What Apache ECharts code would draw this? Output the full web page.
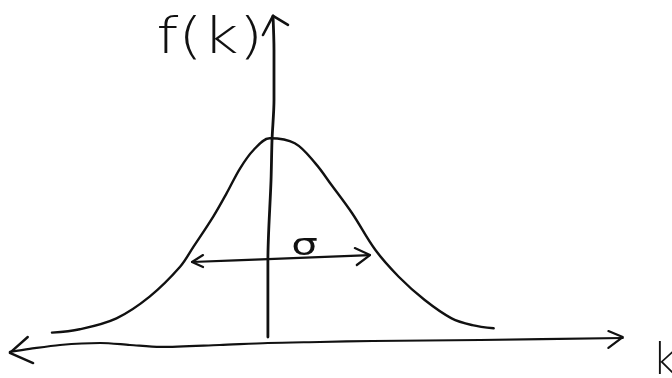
<!DOCTYPE html>
<html>
<head>
<meta charset="utf-8">
<script src="https://cdn.jsdelivr.net/npm/echarts@6/dist/echarts.min.js"></script>
<style>
  html, body { margin: 0; padding: 0; background: #fff; }
  #chart { width: 672px; height: 378px; }
</style>
</head>
<body>
<div id="chart"></div>
<script>
// Bell curve f(k), sketched in units of k (sigma ~ 1) and f (peak ~ 1)
const curveK = [-2.42, -2.11, -1.70, -1.33, -0.99, -0.84, -0.62, -0.47, -0.32, -0.17, 0.01, 0.29, 0.52, 0.70, 0.93, 1.19, 1.45, 1.74, 2.04, 2.27, 2.51];
const curveF = [0.028, 0.045, 0.100, 0.209, 0.359, 0.460, 0.611, 0.729, 0.854, 0.946, 1.005, 0.980, 0.879, 0.770, 0.628, 0.443, 0.309, 0.192, 0.100, 0.066, 0.050];

// Hand-drawn k axis (slightly wavy), left tip to right tip
const kAxisK = [-2.89, -2.67, -2.33, -1.88, -1.55, -1.21, -0.55, -0.01, 0.57, 1.16, 2.36, 3.95];
const kAxisF = [-0.069, -0.054, -0.034, -0.024, -0.034, -0.044, -0.034, -0.024, -0.019, -0.014, -0.009, 0.001];
const kArrowLeftK = [-2.69, -2.89, -2.63];
const kArrowLeftF = [0.006, -0.074, -0.125];
const kArrowRightK = [3.79, 3.95, 3.79];
const kArrowRightF = [0.036, 0.006, -0.049];

// Hand-drawn f axis, bottom to top
const fAxisK = [-0.01, -0.01, 0.025, 0.036, 0.058, 0.058, 0.047];
const fAxisF = [0.006, 0.393, 0.795, 0.996, 1.197, 1.449, 1.620];
const fArrowK = [-0.065, 0.047, 0.214];
const fArrowF = [1.524, 1.620, 1.575];

// Width marker (sigma) double arrow
const sigmaK = [-0.857, -0.01, 1.129];
const sigmaF = [0.383, 0.398, 0.418];
const sigmaLeftHeadK = [-0.734, -0.857, -0.734];
const sigmaLeftHeadF = [0.418, 0.383, 0.358];
const sigmaRightHeadK = [0.960, 1.129, 0.982];
const sigmaRightHeadF = [0.453, 0.418, 0.368];

// Text labels
const yAxisLabel = 'f(k)';
const xAxisLabel = 'k';
const widthLabel = 'σ';
const yLabelAt = [-0.66, 1.50];
const xLabelAt = [4.28, -0.02];
const widthLabelAt = [0.40, 0.455];

const ink = '#111';
const pairs = (ks, fs) => ks.map((k, i) => [k, fs[i]]);

function stroke(ks, fs, width, smooth) {
  return {
    type: 'line',
    data: pairs(ks, fs),
    symbol: 'none',
    smooth: smooth || false,
    silent: true,
    lineStyle: { color: ink, width: width, cap: 'round', join: 'round' }
  };
}

const chart = echarts.init(document.getElementById('chart'), null, { renderer: 'canvas' });

chart.setOption({
  backgroundColor: '#fff',
  animation: false,
  grid: { left: 0, right: 0, top: 0, bottom: 0 },
  xAxis: { type: 'value', min: -3, max: 4.5, show: false },
  yAxis: { type: 'value', min: -0.2, max: 1.7, show: false },
  series: [
    stroke(curveK, curveF, 2.4, 0.35),
    stroke(kAxisK, kAxisF, 2.2, 0.3),
    stroke(kArrowLeftK, kArrowLeftF, 2.4),
    stroke(kArrowRightK, kArrowRightF, 2.2),
    stroke(fAxisK, fAxisF, 2.8, 0.3),
    stroke(fArrowK, fArrowF, 2.6),
    stroke(sigmaK, sigmaF, 2.2, 0.3),
    stroke(sigmaLeftHeadK, sigmaLeftHeadF, 2.2),
    stroke(sigmaRightHeadK, sigmaRightHeadF, 2.2)
  ]
});

// Place the text labels at data positions
const yPos = chart.convertToPixel({ gridIndex: 0 }, yLabelAt);
const xPos = chart.convertToPixel({ gridIndex: 0 }, xLabelAt);
const sPos = chart.convertToPixel({ gridIndex: 0 }, widthLabelAt);

chart.setOption({
  graphic: [
    {
      type: 'text', x: yPos[0], y: yPos[1], scaleX: 1.25,
      style: {
        text: yAxisLabel, fill: ink, font: '200 50px "DejaVu Sans"',
        align: 'center', verticalAlign: 'middle'
      }
    },
    {
      type: 'text', x: xPos[0], y: xPos[1],
      style: {
        text: xAxisLabel, fill: ink, font: '200 42px "DejaVu Sans"',
        align: 'left', verticalAlign: 'top'
      }
    },
    {
      type: 'text', x: sPos[0], y: sPos[1], scaleX: 1.4,
      style: {
        text: widthLabel, fill: ink, font: '30px "DejaVu Sans"',
        align: 'center', verticalAlign: 'middle'
      }
    }
  ]
});
</script>
</body>
</html>
